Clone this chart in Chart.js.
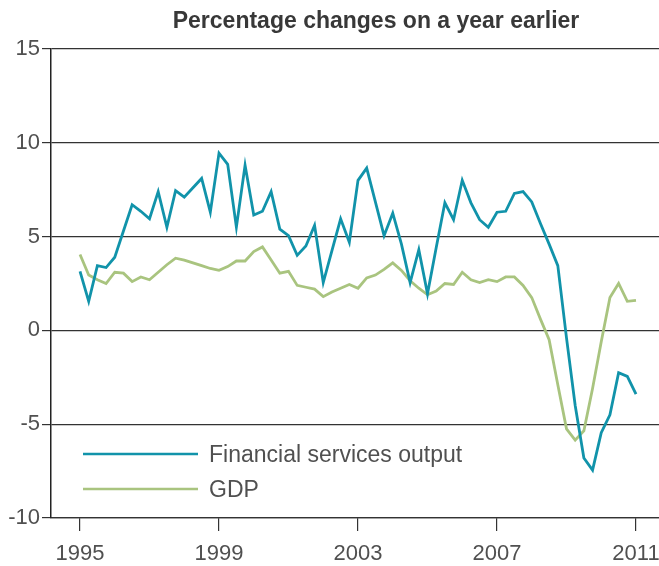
<!DOCTYPE html>
<html>
<head>
<meta charset="utf-8">
<script src="https://cdn.jsdelivr.net/npm/chart.js@4.4.0/dist/chart.umd.min.js"></script>
<style>
  body { margin: 0; background: #fff; }
  #wrap { width: 659px; height: 566px; }
</style>
</head>
<body>
<div id="wrap"><canvas id="myChart" width="659" height="566"></canvas></div>
<script>
// quarterly observations, 1995 Q1 to 2011 Q1
const quarters = [
  '1995 Q1', '1995 Q2', '1995 Q3', '1995 Q4', '1996 Q1', '1996 Q2', '1996 Q3', '1996 Q4',
  '1997 Q1', '1997 Q2', '1997 Q3', '1997 Q4', '1998 Q1', '1998 Q2', '1998 Q3', '1998 Q4',
  '1999 Q1', '1999 Q2', '1999 Q3', '1999 Q4', '2000 Q1', '2000 Q2', '2000 Q3', '2000 Q4',
  '2001 Q1', '2001 Q2', '2001 Q3', '2001 Q4', '2002 Q1', '2002 Q2', '2002 Q3', '2002 Q4',
  '2003 Q1', '2003 Q2', '2003 Q3', '2003 Q4', '2004 Q1', '2004 Q2', '2004 Q3', '2004 Q4',
  '2005 Q1', '2005 Q2', '2005 Q3', '2005 Q4', '2006 Q1', '2006 Q2', '2006 Q3', '2006 Q4',
  '2007 Q1', '2007 Q2', '2007 Q3', '2007 Q4', '2008 Q1', '2008 Q2', '2008 Q3', '2008 Q4',
  '2009 Q1', '2009 Q2', '2009 Q3', '2009 Q4', '2010 Q1', '2010 Q2', '2010 Q3', '2010 Q4',
  '2011 Q1'
];

// Financial services output, % change on a year earlier
const financialServices = [
  3.15, 1.55, 3.45, 3.35, 3.9, 5.3, 6.7, 6.35,
  5.95, 7.4, 5.5, 7.45, 7.1, 7.6, 8.1, 6.3,
  9.45, 8.85, 5.5, 8.8, 6.15, 6.35, 7.4, 5.4,
  5.05, 4.0, 4.5, 5.6, 2.55, 4.25, 5.95, 4.7,
  8.0, 8.65, 6.85, 5.05, 6.25, 4.6, 2.55, 4.3,
  1.95, 4.4, 6.8, 5.9, 8.0, 6.8, 5.9, 5.5,
  6.3, 6.35, 7.3, 7.4, 6.85, 5.7, 4.6, 3.45,
  -0.4, -4.0, -6.8, -7.45, -5.45, -4.5, -2.25, -2.45,
  -3.4
];

// GDP, % change on a year earlier
const gdp = [
  4.05, 2.95, 2.7, 2.5, 3.1, 3.05, 2.6, 2.85,
  2.7, 3.1, 3.5, 3.85, 3.75, 3.6, 3.45, 3.3,
  3.2, 3.4, 3.7, 3.7, 4.2, 4.45, 3.75, 3.05,
  3.15, 2.4, 2.3, 2.2, 1.8, 2.05, 2.25, 2.45,
  2.25, 2.8, 2.95, 3.25, 3.6, 3.2, 2.65, 2.25,
  1.9, 2.1, 2.5, 2.45, 3.1, 2.7, 2.55, 2.7,
  2.6, 2.85, 2.85, 2.4, 1.75, 0.6, -0.5, -2.9,
  -5.25, -5.85, -5.35, -3.1, -0.6, 1.75, 2.5, 1.55,
  1.6
];

const xTickYears = [1995, 1999, 2003, 2007, 2011];
const yTicks = [-10, -5, 0, 5, 10, 15];
const chartTitle = 'Percentage changes on a year earlier';

// '1997 Q3' -> 1997.5
function quarterToYear(q) {
  const parts = q.split(' Q');
  return Number(parts[0]) + (Number(parts[1]) - 1) / 4;
}

function toPoints(values) {
  return values.map((v, i) => ({ x: quarterToYear(quarters[i]), y: v }));
}

const tickFont = { family: '"Liberation Sans", Arial, sans-serif', size: 22 };
const textColor = '#505050';

// title and in-plot legend
const overlay = {
  id: 'overlay',
  afterDraw(chart) {
    const ctx = chart.ctx;
    const area = chart.chartArea;
    ctx.save();
    ctx.font = 'bold 23px "Liberation Sans", Arial, sans-serif';
    ctx.fillStyle = '#383838';
    ctx.textAlign = 'center';
    ctx.textBaseline = 'alphabetic';
    ctx.fillText(chartTitle, 376, 28);

    ctx.font = '23px "Liberation Sans", Arial, sans-serif';
    ctx.textAlign = 'left';
    chart.data.datasets.forEach((ds, i) => {
      const y = area.bottom - 64 + i * 35;
      ctx.strokeStyle = ds.borderColor;
      ctx.lineWidth = 2.5;
      ctx.beginPath();
      ctx.moveTo(area.left + 32, y);
      ctx.lineTo(area.left + 147, y);
      ctx.stroke();
      ctx.fillStyle = textColor;
      ctx.fillText(ds.label, area.left + 158, y + 8);
    });
    ctx.restore();
  }
};

const ctx = document.getElementById('myChart').getContext('2d');
const myChart = new Chart(ctx, {
  type: 'line',
  data: {
    datasets: [{
      label: 'Financial services output',
      data: toPoints(financialServices),
      borderColor: '#1193aa',
      borderWidth: 2.8,
      pointRadius: 0,
      tension: 0
    }, {
      label: 'GDP',
      data: toPoints(gdp),
      borderColor: '#a9c47f',
      borderWidth: 2.8,
      pointRadius: 0,
      tension: 0
    }]
  },
  options: {
    responsive: false,
    animation: false,
    layout: { padding: { top: 49, right: 0, left: 0, bottom: 0 } },
    plugins: {
      legend: { display: false },
      title: { display: false },
      tooltip: { enabled: false }
    },
    scales: {
      x: {
        type: 'linear',
        min: 1994.165,
        max: 2011.662,
        afterBuildTicks: scale => { scale.ticks = xTickYears.map(v => ({ value: v })); },
        afterFit: scale => {
          scale.height = 566 - 49 - 469;
          scale.paddingLeft = 0;
          scale.paddingRight = 0;
        },
        ticks: {
          font: tickFont,
          color: textColor,
          padding: 10,
          maxRotation: 0,
          autoSkip: false,
          callback: v => String(v)
        },
        grid: {
          drawOnChartArea: false,
          drawTicks: true,
          tickLength: 13,
          color: '#333',
          lineWidth: 1.2
        },
        border: { display: true, color: '#333', width: 1.2 }
      },
      y: {
        min: -10,
        max: 15,
        afterBuildTicks: scale => { scale.ticks = yTicks.map(v => ({ value: v })); },
        afterFit: scale => {
          scale.width = 51;
          scale.paddingTop = 0;
          scale.paddingBottom = 0;
        },
        ticks: {
          font: tickFont,
          color: textColor,
          padding: 2
        },
        grid: {
          color: '#333',
          lineWidth: 1.2,
          drawTicks: true,
          tickLength: 9
        },
        border: { display: true, color: '#222', width: 1.5 }
      }
    }
  },
  plugins: [overlay]
});
</script>
</body>
</html>
